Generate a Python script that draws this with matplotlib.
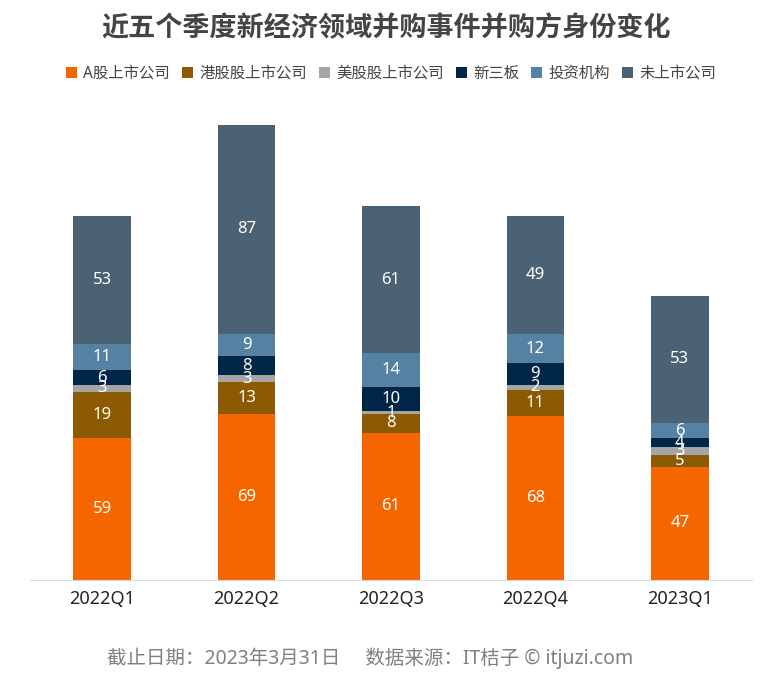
import matplotlib.pyplot as plt
import numpy as np

plt.rcParams['font.family'] = ['Noto Sans', 'Noto Sans CJK SC', 'DejaVu Sans']

quarters = ["2022Q1", "2022Q2", "2022Q3", "2022Q4", "2023Q1"]
series_names = ["A股上市公司", "港股股上市公司", "美股股上市公司", "新三板", "投资机构", "未上市公司"]
a_share = [59, 69, 61, 68, 47]
hk_share = [19, 13, 8, 11, 5]
us_share = [3, 3, 1, 2, 3]
neeq = [6, 8, 10, 9, 4]
institution = [11, 9, 14, 12, 6]
unlisted = [53, 87, 61, 49, 53]
colors = ["#F56600", "#8C5A00", "#A5A5A5", "#002647", "#5581A3", "#4A6274"]


def main():
    series = [a_share, hk_share, us_share, neeq, institution, unlisted]
    fig = plt.figure(figsize=(7.72, 6.92), dpi=100)
    ax = fig.add_axes([30 / 772, 112 / 692, 722 / 772, 482 / 692])
    x = np.arange(len(quarters))
    bottom = np.zeros(len(quarters))
    for name, vals, c in zip(series_names, series, colors):
        vals = np.array(vals, dtype=float)
        ax.bar(x, vals, width=0.4, bottom=bottom, color=c, label=name)
        for xi, b, v in zip(x, bottom, vals):
            ax.text(xi, b + v / 2, str(int(v)), ha='center', va='center',
                    color='white', fontsize=12)
        bottom += vals

    ax.set_xlim(-0.5, len(quarters) - 0.5)
    ax.set_ylim(0, 200)
    for s in ['top', 'right', 'left']:
        ax.spines[s].set_visible(False)
    ax.spines['bottom'].set_color('#D9D9D9')
    ax.set_yticks([])
    ax.set_xticks(x)
    ax.set_xticklabels(quarters, fontsize=13, color='#222222')
    ax.tick_params(axis='x', length=0, pad=7)

    fig.text(0.5, 1 - 29 / 692, "近五个季度新经济领域并购事件并购方身份变化", ha='center',
             va='center', fontsize=19.5, fontweight='bold', color='#444444')
    ax.legend(loc='center', bbox_to_anchor=(0.5, (692 - 74 - 112) / 482), ncol=6,
              frameon=False, fontsize=11.1, handlelength=0.7, handleheight=0.7,
              handletextpad=0.4, columnspacing=0.8, labelcolor='#444444')
    fig.text(370 / 772, 1 - 658 / 692, "截止日期：2023年3月31日     数据来源：IT桔子 © itjuzi.com",
             ha='center', va='center', fontsize=14, color='#808080')
    fig.savefig("out.png", dpi=100)
    plt.close(fig)


if __name__ == "__main__":
    main()
